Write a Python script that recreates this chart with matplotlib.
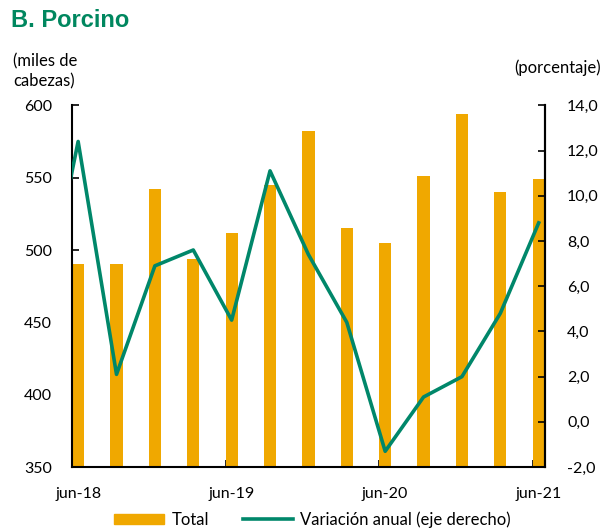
import matplotlib.pyplot as plt
import numpy as np
from matplotlib.patches import Patch
from matplotlib.lines import Line2D

plt.rcParams['font.family'] = ['Lato', 'DejaVu Sans']

# quarters jun-18 .. jun-21
quarters = ['jun-18', 'sep-18', 'dic-18', 'mar-19', 'jun-19', 'sep-19', 'dic-19',
            'mar-20', 'jun-20', 'sep-20', 'dic-20', 'mar-21', 'jun-21']
total = [490, 490, 542, 494, 512, 545, 582, 515, 505, 551, 594, 540, 549]
# annual change (%); first value is mar-18, only its tail shows at the left edge
variacion_prev = 4.0
variacion = [12.4, 2.1, 6.9, 7.6, 4.5, 11.1, 7.4, 4.4, -1.3, 1.1, 2.0, 4.8, 8.8]
label_every = 4

bar_color = '#F0A800'
line_color = '#00876A'

fig = plt.figure(figsize=(6.07, 5.29), dpi=100)
ax = fig.add_axes([0.1186, 0.117, 0.779, 0.684])
ax2 = ax.twinx()

x = np.arange(len(quarters))
w = 0.32
ax.bar(x, total, width=w, color=bar_color, zorder=2)
ax.set_ylim(350, 600)
ax.set_yticks(np.arange(350, 601, 50))
ax.set_xlim(-w / 2, len(quarters) - 1 + w / 2)

xl = np.concatenate([[-1], x])
yl = [variacion_prev] + variacion
ax2.plot(xl, yl, color=line_color, lw=2.6, zorder=3)
ax2.set_ylim(-2, 14)
ax2.set_yticks(np.arange(-2, 14.1, 2))
ax2.set_yticklabels([f'{v:.1f}'.replace('.', ',') for v in np.arange(-2, 14.1, 2)])

# labels at bar centres, tick marks at the bar's left edge
lab_idx = x[::label_every]
ax.set_xticks(lab_idx)
ax.set_xticklabels([quarters[i] for i in lab_idx])
ax.set_xticks(lab_idx - w / 2, minor=True)
ax.tick_params(axis='x', which='major', length=0, pad=14, labelsize=11.5)
ax.tick_params(axis='x', which='minor', direction='in', length=5, width=1.2)
ax.tick_params(axis='y', direction='in', length=5, width=1.2, pad=14.5, labelsize=11.5)
ax2.tick_params(axis='y', direction='in', length=5, width=1.2, pad=16, labelsize=11.5)

for a in (ax, ax2):
    a.spines['top'].set_visible(False)
    for s in ('left', 'right', 'bottom'):
        a.spines[s].set_linewidth(1.5)
ax2.spines['left'].set_visible(False)
ax2.spines['bottom'].set_visible(False)

fig.text(0.018, 0.962, 'B. Porcino', fontsize=17, fontweight='bold', color='#00875F',
         family='Liberation Sans', va='center')
fig.text(0.022, 0.865, '(miles de\ncabezas)', fontsize=12, va='center', linespacing=1.35)
fig.text(0.99, 0.872, '(porcentaje)', fontsize=12, va='center', ha='right')

handles = [Patch(color=bar_color), Line2D([0], [0], color=line_color, lw=2.6)]
fig.legend(handles, ['Total', 'Variación anual (eje derecho)'], loc='center',
           bbox_to_anchor=(0.515, 0.018), ncol=2, frameon=False, fontsize=12,
           handlelength=3.0, handleheight=0.6, columnspacing=2.0, handletextpad=0.45)

fig.savefig('out.png', dpi=100)
